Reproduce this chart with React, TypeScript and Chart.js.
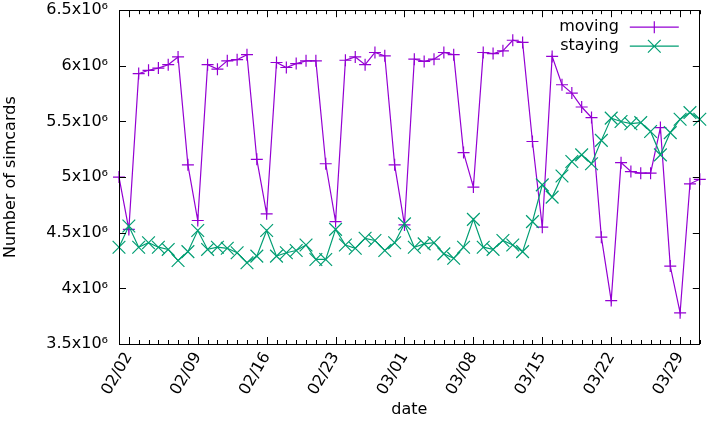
import { useEffect, useRef } from 'react';
import { Chart, registerables } from 'chart.js';

Chart.register(...registerables);

const FONT = 'DejaVu Sans';
const MOVING_COLOR = '#9400d3';
const STAYING_COLOR = '#009e73';

const dates = [
  '02/01', '02/02', '02/03', '02/04', '02/05', '02/06', '02/07', '02/08', '02/09', '02/10',
  '02/11', '02/12', '02/13', '02/14', '02/15', '02/16', '02/17', '02/18', '02/19', '02/20',
  '02/21', '02/22', '02/23', '02/24', '02/25', '02/26', '02/27', '02/28', '02/29', '03/01',
  '03/02', '03/03', '03/04', '03/05', '03/06', '03/07', '03/08', '03/09', '03/10', '03/11',
  '03/12', '03/13', '03/14', '03/15', '03/16', '03/17', '03/18', '03/19', '03/20', '03/21',
  '03/22', '03/23', '03/24', '03/25', '03/26', '03/27', '03/28', '03/29', '03/30', '03/31',
];

// values in millions of simcards
const movingValues = [
  5.0, 4.53, 5.93, 5.96, 5.98, 6.01, 6.08, 5.11, 4.61, 6.01,
  5.97, 6.045, 6.055, 6.1, 5.16, 4.67, 6.03, 5.985, 6.02, 6.045,
  6.045, 5.12, 4.6, 6.05, 6.08, 6.01, 6.12, 6.09, 5.11, 4.57,
  6.06, 6.04, 6.06, 6.12, 6.1, 5.22, 4.91, 6.12, 6.11, 6.135,
  6.23, 6.21, 5.32, 4.55, 6.085, 5.83, 5.755, 5.63, 5.535, 4.46,
  3.89, 5.13, 5.05, 5.035, 5.035, 5.445, 4.2, 3.78, 4.94, 4.98,
];

const stayingValues = [
  4.37, 4.56, 4.37, 4.41, 4.37, 4.35, 4.25, 4.33, 4.52, 4.35,
  4.37, 4.36, 4.32, 4.23, 4.29, 4.52, 4.29, 4.32, 4.34, 4.39,
  4.26, 4.26, 4.53, 4.39, 4.36, 4.45, 4.43, 4.34, 4.41, 4.58,
  4.37, 4.4, 4.41, 4.31, 4.27, 4.37, 4.62, 4.37, 4.35, 4.43,
  4.39, 4.33, 4.6, 4.93, 4.82, 5.01, 5.14, 5.2, 5.12, 5.33,
  5.53, 5.5, 5.48, 5.49, 5.41, 5.2, 5.4, 5.52, 5.58, 5.52,
];

const xTickDates = ['02/02', '02/09', '02/16', '02/23', '03/01', '03/08', '03/15', '03/22', '03/29'];
const yTicks = [3.5, 4, 4.5, 5, 5.5, 6, 6.5];
const seriesNames = ['moving', 'staying'];

const framePlugin = {
  id: 'gnuplotFrame',
  afterDatasetsDraw(chart: any) {
    const { ctx, chartArea, scales } = chart;
    const { left, right, top, bottom } = chartArea;
    const x = scales.x;
    const y = scales.y;
    ctx.save();
    ctx.strokeStyle = '#000';
    ctx.lineWidth = 1;
    ctx.beginPath();
    for (let i = 0; i < dates.length; i++) {
      const px = Math.round(x.getPixelForValue(i)) + 0.5;
      const len = xTickDates.includes(dates[i]) ? 7 : 4;
      ctx.moveTo(px, bottom);
      ctx.lineTo(px, bottom - len);
      ctx.moveTo(px, top);
      ctx.lineTo(px, top + len);
    }
    for (const v of yTicks) {
      const py = Math.round(y.getPixelForValue(v)) + 0.5;
      ctx.moveTo(left, py);
      ctx.lineTo(left + 7, py);
      ctx.moveTo(right, py);
      ctx.lineTo(right - 7, py);
    }
    ctx.stroke();
    ctx.strokeRect(Math.round(left) + 0.5, Math.round(top) + 0.5, Math.round(right - left) - 1, Math.round(bottom - top));

    // key (legend) inside the plot, gnuplot style: text then sample
    const textRight = right - 81;
    const sampleL = right - 70;
    const sampleR = right - 21;
    const rows = [top + 17, top + 36];
    ctx.font = `16px "${FONT}"`;
    ctx.fillStyle = '#000';
    ctx.textAlign = 'right';
    ctx.textBaseline = 'middle';
    chart.data.datasets.forEach((ds: any, i: number) => {
      const yy = rows[i];
      ctx.fillText(seriesNames[i], textRight, yy);
      ctx.strokeStyle = ds.borderColor;
      ctx.lineWidth = ds.borderWidth;
      ctx.beginPath();
      ctx.moveTo(sampleL, yy);
      ctx.lineTo(sampleR, yy);
      const cx = (sampleL + sampleR) / 2;
      if (ds.pointStyle === 'cross') {
        const r = ds.pointRadius;
        ctx.moveTo(cx - r, yy);
        ctx.lineTo(cx + r, yy);
        ctx.moveTo(cx, yy - r);
        ctx.lineTo(cx, yy + r);
      } else {
        const r = ds.pointRadius * Math.SQRT1_2;
        ctx.moveTo(cx - r, yy - r);
        ctx.lineTo(cx + r, yy + r);
        ctx.moveTo(cx - r, yy + r);
        ctx.lineTo(cx + r, yy - r);
      }
      ctx.stroke();
    });
    ctx.restore();
  },
};

export default function App() {
  const ref = useRef<HTMLCanvasElement>(null);
  useEffect(() => {
    Chart.defaults.font.family = FONT;
    const chart = new Chart(ref.current as HTMLCanvasElement, {
      type: 'line',
      data: {
        labels: dates,
        datasets: [
          {
            label: seriesNames[0],
            data: movingValues,
            borderColor: MOVING_COLOR,
            backgroundColor: MOVING_COLOR,
            borderWidth: 1.2,
            pointStyle: 'cross',
            pointRadius: 6,
            pointBorderWidth: 1.2,
            pointBorderColor: MOVING_COLOR,
            fill: false,
            tension: 0,
            order: 2,
          },
          {
            label: seriesNames[1],
            data: stayingValues,
            borderColor: STAYING_COLOR,
            backgroundColor: STAYING_COLOR,
            borderWidth: 1.2,
            pointStyle: 'crossRot',
            pointRadius: 9,
            pointBorderWidth: 1.2,
            pointBorderColor: STAYING_COLOR,
            fill: false,
            tension: 0,
            order: 1,
          },
        ],
      },
      options: {
        responsive: false,
        animation: false,
        devicePixelRatio: 1,
        layout: { padding: { top: 10, right: 7, left: 0, bottom: 0 } },
        plugins: {
          legend: { display: false },
          tooltip: { enabled: false },
        },
        scales: {
          x: {
            type: 'category',
            offset: false,
            grid: { display: false, drawTicks: false },
            border: { display: false },
            ticks: {
              autoSkip: false,
              minRotation: 60,
              maxRotation: 60,
              padding: 5,
              color: '#000',
              font: { family: FONT, size: 16 },
              callback: (_v: any, i: number) => (xTickDates.includes(dates[i]) ? dates[i] : ''),
            },
            title: {
              display: true,
              text: 'date',
              color: '#000',
              font: { family: FONT, size: 16 },
              padding: { top: 0, bottom: 6 },
            },
            afterFit: (s: any) => {
              s.height = 81;
              s.paddingLeft = 0;
              s.paddingRight = 0;
            },
          },
          y: {
            min: 3.5,
            max: 6.5,
            grid: { display: false, drawTicks: false },
            border: { display: false },
            ticks: {
              stepSize: 0.5,
              padding: 11,
              color: '#000',
              font: { family: FONT, size: 16 },
              callback: (v: any) => `${v}x10\u2076`,
            },
            title: {
              display: true,
              text: 'Number of simcards',
              color: '#000',
              font: { family: FONT, size: 16 },
              padding: { top: 1, bottom: 0 },
            },
            afterFit: (s: any) => {
              s.width = 119;
              s.paddingTop = 0;
              s.paddingBottom = 0;
            },
          },
        },
      },
      plugins: [framePlugin],
    });
    return () => chart.destroy();
  }, []);

  return (
    <div style={{ position: 'absolute', left: 0, top: 0, width: 710, height: 425, background: '#fff' }}>
      <canvas ref={ref} width={710} height={425} style={{ display: 'block' }} />
    </div>
  );
}
